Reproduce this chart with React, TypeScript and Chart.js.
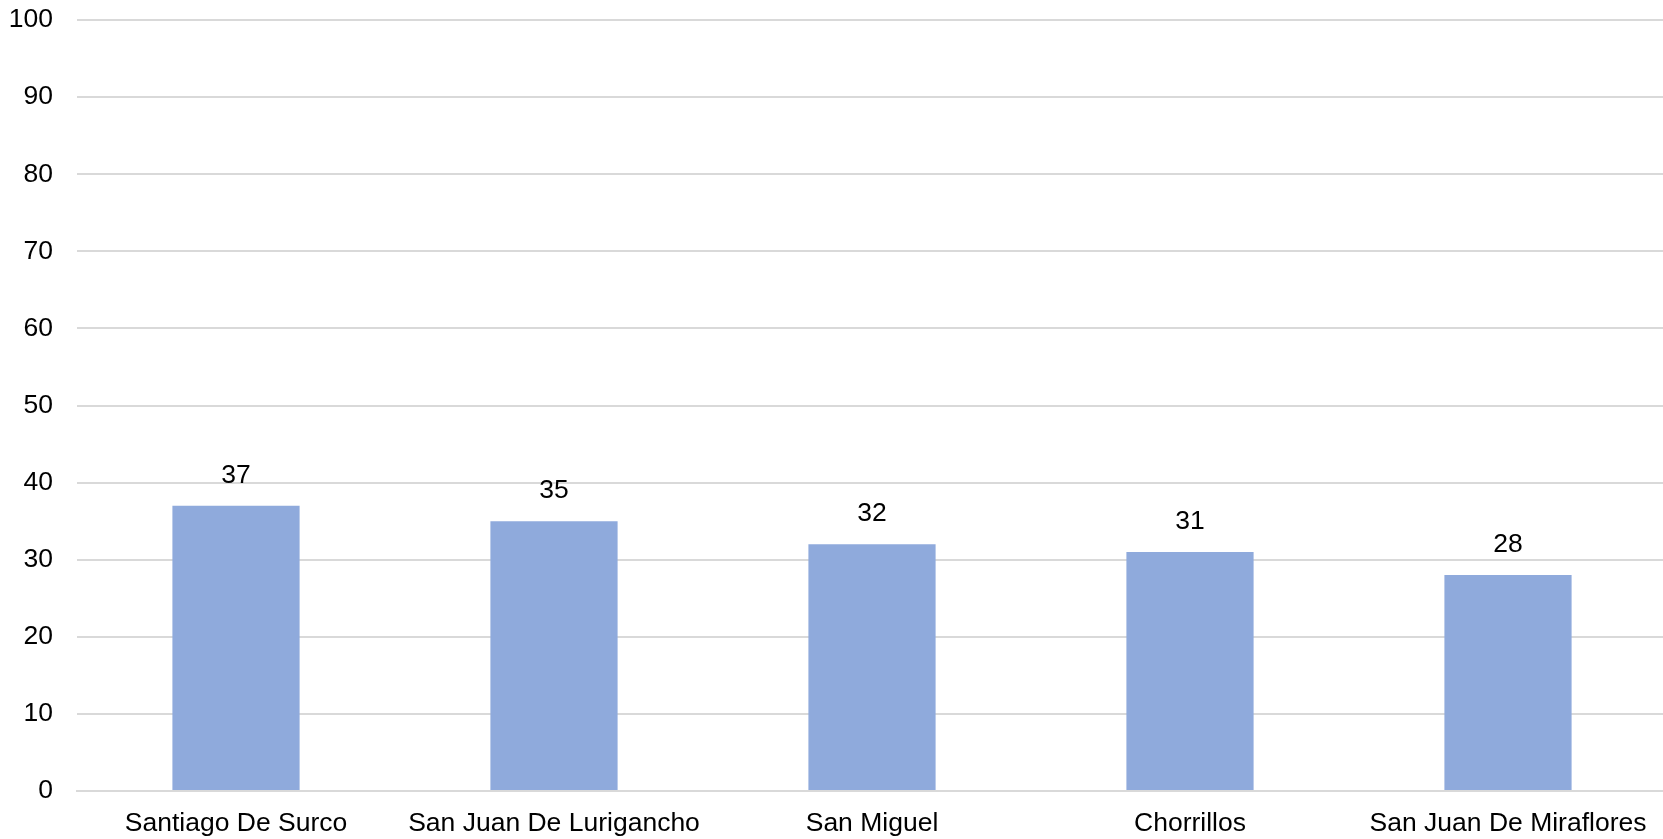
import React, { useEffect, useRef } from "react";
import { Chart, registerables } from "chart.js";

Chart.register(...registerables);

const categories = [
  "Santiago De Surco",
  "San Juan De Lurigancho",
  "San Miguel",
  "Chorrillos",
  "San Juan De Miraflores",
];
const values = [37, 35, 32, 31, 28];
const yMin = 0;
const yMax = 100;
const yStep = 10;

const FONT = "'Liberation Sans', Arial, sans-serif";
const FS = 26.5;

const valueLabels = {
  id: "valueLabels",
  afterDatasetsDraw(chart: any) {
    const ctx = chart.ctx;
    const meta = chart.getDatasetMeta(0);
    ctx.save();
    ctx.font = `${FS}px ${FONT}`;
    ctx.fillStyle = "#000000";
    ctx.textAlign = "center";
    ctx.textBaseline = "alphabetic";
    meta.data.forEach((bar: any, i: number) => {
      ctx.fillText(String(values[i]), bar.x, bar.y - 23);
    });
    ctx.restore();
  },
};

export default function App() {
  const ref = useRef<HTMLCanvasElement | null>(null);
  useEffect(() => {
    document.body.style.margin = "0";
    if (!ref.current) return;
    const chart = new Chart(ref.current, {
      type: "bar",
      data: {
        labels: categories,
        datasets: [
          {
            data: values,
            backgroundColor: "#8FAADC",
            borderWidth: 0,
            barPercentage: 0.4,
            categoryPercentage: 1,
          },
        ],
      },
      options: {
        animation: false,
        responsive: false,
        maintainAspectRatio: false,
        layout: { padding: { top: 20, right: 0, left: 0, bottom: 0 } },
        plugins: {
          legend: { display: false },
          tooltip: { enabled: false },
        },
        scales: {
          x: {
            grid: { display: false, drawTicks: false },
            border: { display: true, color: "#d9d9d9", width: 2 },
            ticks: {
              color: "#000000",
              font: { family: FONT, size: FS },
              padding: 17,
              maxRotation: 0,
              autoSkip: false,
            },
            afterFit(scale: any) {
              scale.height = 48;
              scale.paddingLeft = 0;
              scale.paddingRight = 0;
            },
          },
          y: {
            min: yMin,
            max: yMax,
            grid: { color: "#d9d9d9", lineWidth: 2, drawTicks: false },
            border: { display: false },
            ticks: {
              stepSize: yStep,
              color: "#000000",
              font: { family: FONT, size: FS },
              padding: 24,
            },
            afterFit(scale: any) {
              scale.width = 77;
              scale.paddingTop = 0;
              scale.paddingBottom = 0;
            },
          },
        },
      },
      plugins: [valueLabels],
    });
    return () => chart.destroy();
  }, []);
  return (
    <div style={{ position: "fixed", left: 0, top: 0, width: 1663, height: 839, background: "#fff", overflow: "hidden" }}>
      <canvas ref={ref} width={1667} height={839} style={{ width: 1667, height: 839 }} />
    </div>
  );
}
